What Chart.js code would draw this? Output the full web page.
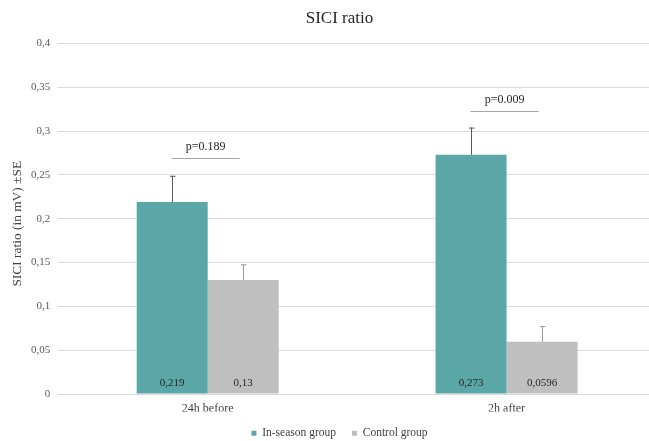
<!DOCTYPE html>
<html>
<head>
<meta charset="utf-8">
<script src="https://cdn.jsdelivr.net/npm/chart.js@4"></script>
<style>
  html, body { margin: 0; padding: 0; background: #fff; overflow: hidden; }
  #wrap { position: absolute; left: 0; top: 0; width: 666px; height: 441px; }
</style>
</head>
<body>
<div id="wrap"><canvas id="c" width="666" height="441"></canvas></div>
<script>
// SICI ratio by time point and group
const categories = ['24h before', '2h after'];
const inSeason = [0.219, 0.273];
const control = [0.13, 0.0596];
const inSeasonSE = [0.030, 0.031];
const controlSE = [0.018, 0.018];
const valueLabels = [['0,219', '0,273'], ['0,13', '0,0596']];
const pValues = ['p=0.189', 'p=0.009'];
const pLineLevel = [0.2693, 0.3227];
const yTicks = [0, 0.05, 0.1, 0.15, 0.2, 0.25, 0.3, 0.35, 0.4];
const yTickLabels = ['0', '0,05', '0,1', '0,15', '0,2', '0,25', '0,3', '0,35', '0,4'];
const yTitle = 'SICI ratio (in mV) ±SE';

const SERIF = '"Liberation Serif", "Times New Roman", serif';

const overlay = {
  id: 'overlay',
  afterDatasetsDraw(chart) {
    const ctx = chart.ctx;
    const ys = chart.scales.y;
    const sets = [
      { se: inSeasonSE, color: '#4d5b6b' },
      { se: controlSE, color: '#9a9a9a' }
    ];
    ctx.save();
    // error bars (upper only)
    sets.forEach((s, di) => {
      const meta = chart.getDatasetMeta(di);
      meta.data.forEach((bar, i) => {
        const v = chart.data.datasets[di].data[i];
        const top = ys.getPixelForValue(v + s.se[i]);
        const x = Math.round(bar.x) + 0.5;
        ctx.strokeStyle = s.color;
        ctx.lineWidth = 1;
        ctx.beginPath();
        ctx.moveTo(x, bar.y);
        ctx.lineTo(x, top);
        ctx.moveTo(x - 2.5, top + 0.5);
        ctx.lineTo(x + 3, top + 0.5);
        ctx.stroke();
      });
    });
    // value labels at bar bottoms
    ctx.font = '11px ' + SERIF;
    ctx.fillStyle = '#262626';
    ctx.textAlign = 'center';
    ctx.textBaseline = 'middle';
    [0, 1].forEach(di => {
      chart.getDatasetMeta(di).data.forEach((bar, i) => {
        ctx.fillText(valueLabels[di][i], bar.x, ys.getPixelForValue(0) - 11);
      });
    });
    // significance annotations
    const xs = chart.scales.x;
    pValues.forEach((p, i) => {
      const cx = xs.getPixelForValue(i) - 2;
      const ly = Math.round(ys.getPixelForValue(pLineLevel[i])) + 0.5;
      ctx.strokeStyle = '#a6a6a6';
      ctx.lineWidth = 1;
      ctx.beginPath();
      ctx.moveTo(cx - 34, ly);
      ctx.lineTo(cx + 34, ly);
      ctx.stroke();
      ctx.font = '12px ' + SERIF;
      ctx.fillStyle = '#262626';
      ctx.fillText(p, cx, ly - 12);
    });
    // vertical axis title
    ctx.translate(17, ys.getPixelForValue(0.2) + 5);
    ctx.rotate(-Math.PI / 2);
    ctx.font = '13.4px ' + SERIF;
    ctx.fillStyle = '#404040';
    ctx.fillText(yTitle, 0, 0);
    ctx.restore();
  }
};

new Chart(document.getElementById('c'), {
  type: 'bar',
  data: {
    labels: categories,
    datasets: [
      { label: 'In-season group', data: inSeason, backgroundColor: '#5ba7a7' },
      { label: 'Control group', data: control, backgroundColor: '#bfbfbf' }
    ]
  },
  options: {
    responsive: false,
    animation: false,
    devicePixelRatio: 1,
    layout: { padding: { left: 23, right: 10, top: 4, bottom: -8 } },
    datasets: { bar: { barPercentage: 1, categoryPercentage: 0.475 } },
    plugins: {
      title: {
        display: true,
        text: 'SICI ratio',
        color: '#262626',
        font: { family: SERIF, size: 17, weight: 'normal' },
        padding: { top: 4, bottom: 15 }
      },
      legend: {
        position: 'bottom',
        labels: {
          boxWidth: 5, boxHeight: 5,
          color: '#404040',
          font: { family: SERIF, size: 11.5 },
          padding: 16
        }
      },
      tooltip: { enabled: false }
    },
    scales: {
      x: {
        grid: { display: false },
        border: { color: '#d9d9d9' },
        afterFit(scale) { scale.height -= 5; },
        ticks: { color: '#404040', font: { family: SERIF, size: 12 }, padding: 0 }
      },
      y: {
        min: 0, max: 0.4,
        afterBuildTicks(scale) { scale.ticks = yTicks.map(v => ({ value: v })); },
        grid: { color: '#d9d9d9', drawTicks: false },
        border: { display: false },
        ticks: {
          color: '#595959',
          font: { family: SERIF, size: 11 },
          padding: 8,
          callback: (v) => yTickLabels[yTicks.findIndex(t => Math.abs(t - v) < 1e-9)]
        }
      }
    }
  },
  plugins: [overlay]
});
</script>
</body>
</html>
